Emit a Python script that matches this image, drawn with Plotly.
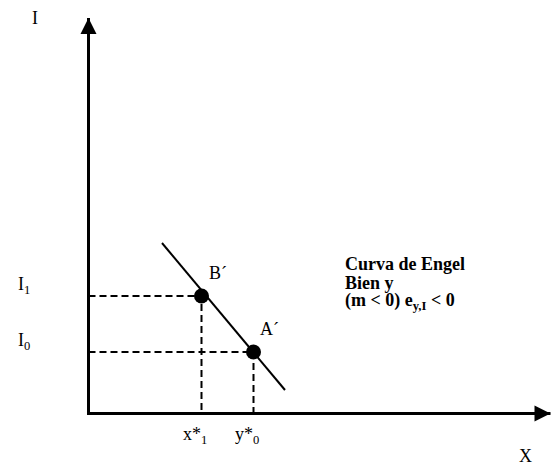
import plotly.graph_objects as go

# Engel curve diagram (inferior good): income I on the vertical axis, quantity X on the horizontal one.
axis_x_end = 462.0      # length of the X axis
axis_y_end = 395.5      # length of the I axis

engel_x = [73.5, 196.5]     # straight Engel curve, negative slope
engel_y = [170.5, 23.5]

point_names = ["B´", "A´"]
point_x = [113.0, 165.0]    # x*1, y*0
point_y = [117.5, 61.5]     # I1, I0

income_labels = ["I<sub>1</sub>", "I<sub>0</sub>"]
quantity_labels = ["x*<sub>1</sub>", "y*<sub>0</sub>"]

note_lines = ["<b>Curva de Engel</b>", "<b>Bien y</b>",
              "<b>(m &lt; 0) e<sub>y,I</sub> &lt; 0</b>"]

FONT = dict(family="Liberation Serif, Times New Roman, serif", size=18, color="black")

fig = go.Figure()

# axes with arrow heads
fig.add_trace(go.Scatter(x=[0, 0, axis_x_end], y=[axis_y_end, 0, 0], mode="lines",
                         line=dict(color="black", width=3), hoverinfo="skip"))
fig.add_trace(go.Scatter(x=[0], y=[axis_y_end], mode="markers",
                         marker=dict(symbol="arrow-up", size=16, color="black",
                                     line=dict(width=0)), hoverinfo="skip"))
fig.add_trace(go.Scatter(x=[axis_x_end], y=[0], mode="markers",
                         marker=dict(symbol="arrow-right", size=16, color="black",
                                     line=dict(width=0)), hoverinfo="skip"))

# dashed guides from each point to both axes
for px, py in zip(point_x, point_y):
    fig.add_trace(go.Scatter(x=[0, px, px], y=[py, py, 0], mode="lines",
                             line=dict(color="black", width=2, dash="7px,4px"),
                             hoverinfo="skip"))

# Engel curve
fig.add_trace(go.Scatter(x=engel_x, y=engel_y, mode="lines",
                         line=dict(color="black", width=2), hoverinfo="skip"))

# bundles B´ and A´
fig.add_trace(go.Scatter(x=point_x, y=point_y, mode="markers",
                         marker=dict(size=15, color="black"), hoverinfo="skip"))

ann = []
ann.append(dict(x=-53.5, y=axis_y_end, text="I", showarrow=False, font=FONT))
ann.append(dict(x=axis_x_end - 25, y=-42.5, text="X", showarrow=False, font=FONT))
for lab, py in zip(income_labels, point_y):
    ann.append(dict(x=-65, y=py + 11, text=lab, showarrow=False, font=FONT))
for lab, px in zip(quantity_labels, point_x):
    ann.append(dict(x=px - 7, y=-21.5, text=lab, showarrow=False, font=FONT))
for name, px, py in zip(point_names, point_x, point_y):
    ann.append(dict(x=px + 16, y=py + 23, text=name, showarrow=False, font=FONT))
for i, line in enumerate(note_lines):
    ann.append(dict(x=254.5, y=150 - 19 * i, text=line, showarrow=False,
                    xanchor="left", font=FONT))
for a in ann:
    a.update(xref="x", yref="y")

fig.update_layout(
    width=551, height=468,
    margin=dict(l=0, r=0, t=0, b=0),
    paper_bgcolor="white", plot_bgcolor="white",
    showlegend=False,
    xaxis=dict(range=[-88.5, 462.5], visible=False, fixedrange=True),
    yaxis=dict(range=[-54.5, 413.5], visible=False, fixedrange=True),
    annotations=ann,
)

fig.write_html("out.html")
